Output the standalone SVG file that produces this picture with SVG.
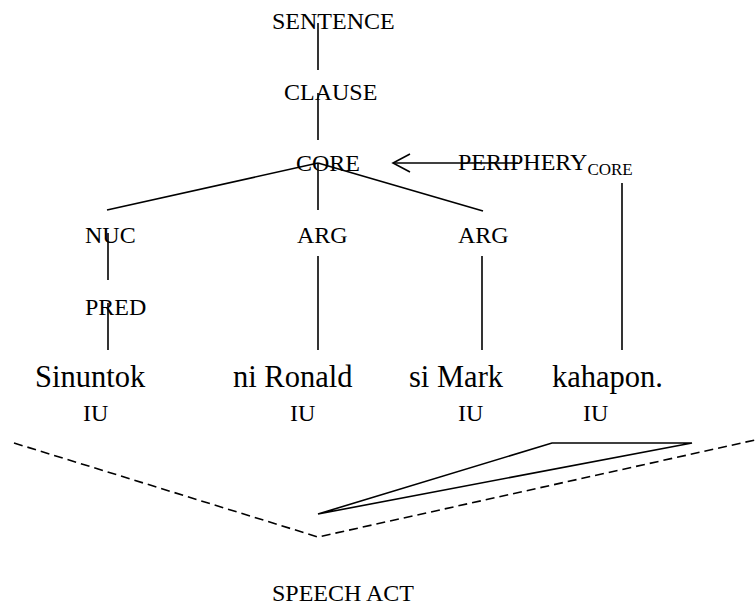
<svg xmlns="http://www.w3.org/2000/svg" width="755" height="608" viewBox="0 0 755 608">
  <style>
    text { font-family: "Liberation Serif", "Times New Roman", serif; fill: #000; }
    .lbl { font-size: 24px; }
    .word { font-size: 30.5px; }
    .sub { font-size: 17px; }
    .ln { stroke: #000; stroke-width: 1.6; fill: none; }
    .dash { stroke: #000; stroke-width: 1.6; fill: none; stroke-dasharray: 9 5; }
  </style>
  <rect width="755" height="608" fill="#fff"/>

  <!-- tree connectors -->
  <g id="connectors">
    <line class="ln" x1="318" y1="23" x2="318" y2="70"/>
    <line class="ln" x1="318" y1="93" x2="318" y2="140"/>
    <line class="ln" x1="318" y1="163" x2="107" y2="210"/>
    <line class="ln" x1="318" y1="163" x2="318" y2="210"/>
    <line class="ln" x1="318" y1="163" x2="483" y2="211"/>
    <line class="ln" x1="108" y1="233" x2="108" y2="280"/>
    <line class="ln" x1="108" y1="303" x2="108" y2="350"/>
    <line class="ln" x1="318" y1="256" x2="318" y2="350"/>
    <line class="ln" x1="482" y1="256" x2="482" y2="350"/>
    <line class="ln" x1="622" y1="183" x2="622" y2="350"/>
    <!-- periphery arrow into CORE -->
    <line class="ln" x1="393" y1="163" x2="518" y2="163"/>
    <polyline class="ln" points="410,154 393,163 410,172"/>
    <!-- speech act wedge and intonation contour -->
    <polyline class="dash" points="14,443 318,537 755,440"/>
    <polygon class="ln" points="318,514 552,443 692,443"/>
  </g>

  <g id="sentence"><text class="lbl" x="272" y="29">SENTENCE</text></g>
  <g id="clause"><text class="lbl" x="284" y="100">CLAUSE</text></g>
  <g id="core"><text class="lbl" x="296" y="171">CORE</text></g>
  <g id="periphery"><text class="lbl" x="458" y="170">PERIPHERY<tspan class="sub" dy="5">CORE</tspan></text></g>
  <g id="nuc"><text class="lbl" x="85" y="243">NUC</text></g>
  <g id="arg1"><text class="lbl" x="297" y="243">ARG</text></g>
  <g id="arg2"><text class="lbl" x="458" y="243">ARG</text></g>
  <g id="pred"><text class="lbl" x="85" y="315">PRED</text></g>

  <g id="w1"><text class="word" x="35" y="387">Sinuntok</text></g>
  <g id="w2"><text class="word" x="233" y="387">ni Ronald</text></g>
  <g id="w3"><text class="word" x="409" y="387">si Mark</text></g>
  <g id="w4"><text class="word" x="552" y="387">kahapon.</text></g>

  <g id="iu1"><text class="lbl" x="83" y="421">IU</text></g>
  <g id="iu2"><text class="lbl" x="290" y="421">IU</text></g>
  <g id="iu3"><text class="lbl" x="458" y="421">IU</text></g>
  <g id="iu4"><text class="lbl" x="583" y="421">IU</text></g>

  <g id="speech-act"><text class="lbl" x="272" y="601">SPEECH ACT</text></g>
</svg>
